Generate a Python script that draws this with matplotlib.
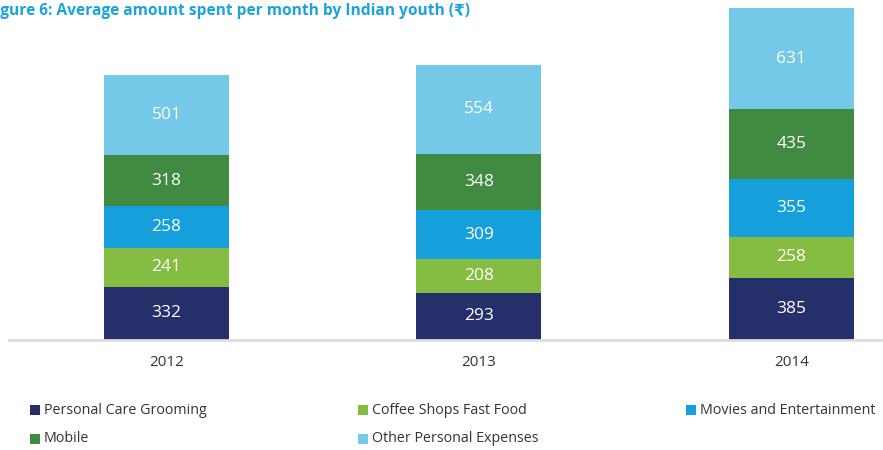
import matplotlib
matplotlib.use("Agg")
import matplotlib.pyplot as plt
from matplotlib.patches import Rectangle
import numpy as np

years = ["2012", "2013", "2014"]
categories = ["Personal Care Grooming", "Coffee Shops Fast Food", "Movies and Entertainment",
              "Mobile", "Other Personal Expenses"]
personal_care = [332, 293, 385]
coffee_fastfood = [241, 208, 258]
movies = [258, 309, 355]
mobile = [318, 348, 435]
other = [501, 554, 631]
series = [personal_care, coffee_fastfood, movies, mobile, other]
colors = ["#25306b", "#84bd41", "#15a0db", "#418a41", "#74c8e8"]

font = ["Open Sans", "DejaVu Sans"]

fig = plt.figure(figsize=(8.83, 4.5), dpi=100)
W, H = 883, 450
ax = fig.add_axes([9 / W, (H - 340) / H, (W - 9) / W, 340 / H])

x = np.arange(len(years))
bottom = np.zeros(len(years))
for vals, col in zip(series, colors):
    v = np.array(vals, dtype=float)
    ax.bar(x, v, bottom=bottom, width=0.40, color=col, edgecolor="none")
    for xi, b, h in zip(x, bottom, v):
        ax.text(xi, b + h / 2, f"{int(h)}", ha="center", va="center",
                color="white", fontsize=12.5, family=font)
    bottom += v

ax.set_xlim(-0.504, 2.293)
ax.set_ylim(0, bottom.max() * 340 / 332)
for s in ["top", "right", "left"]:
    ax.spines[s].set_visible(False)
ax.spines["bottom"].set_color("#dddddd")
ax.spines["bottom"].set_linewidth(2)
ax.set_yticks([])
ax.set_xticks(x)
ax.set_xticklabels(years, family=font, fontsize=11, color="#333333")
ax.tick_params(axis="x", length=0, pad=11)

fig.text(-13 / W, 1 - 11 / H, "Figure 6: Average amount spent per month by Indian youth (₹)",
         ha="left", va="center", fontsize=11.2, fontweight="bold", color="#1ba3dd",
         family=font)

# legend laid out row by row, 3 columns
col_x = [30, 358, 686]
row_y = [410, 439]
sq = 10
for i, (lab, col) in enumerate(zip(categories, colors)):
    r, c = divmod(i, 3)
    px, py = col_x[c], row_y[r]
    fig.patches.append(Rectangle((px / W, (H - py - sq / 2) / H), sq / W, sq / H,
                                 transform=fig.transFigure, facecolor=col,
                                 edgecolor="none"))
    fig.text((px + sq + 4) / W, (H - py) / H, lab, ha="left", va="center",
             fontsize=10.3, color="#333333", family=font)

fig.savefig("out.png", dpi=100)
